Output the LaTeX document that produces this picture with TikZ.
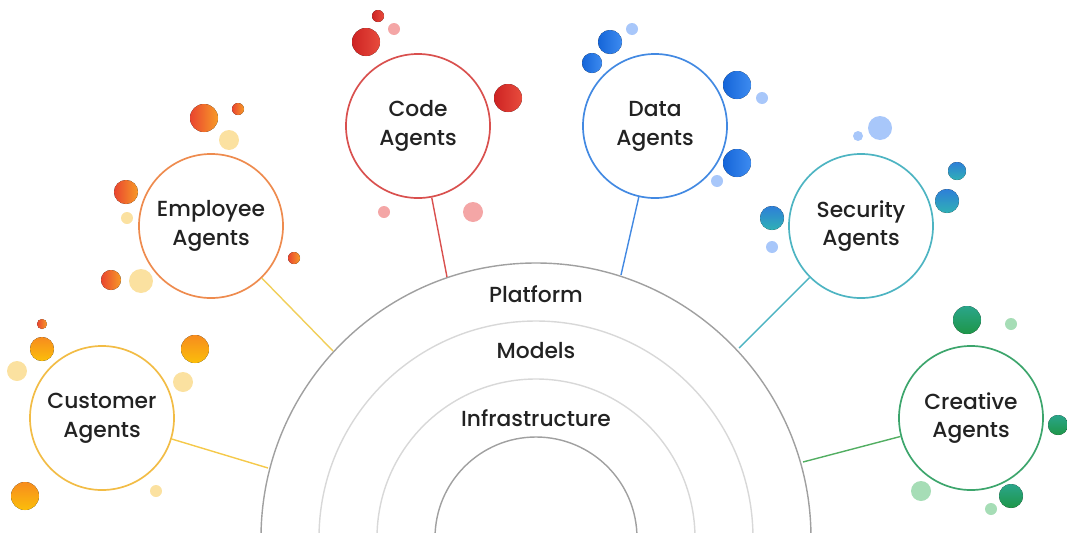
\documentclass[tikz,border=0pt]{standalone}
\usepackage{fontspec}
\setmainfont{Poppins Medium}
\usetikzlibrary{calc}

\definecolor{ringD}{HTML}{A0A0A0}
\definecolor{ringL}{HTML}{D8D8D8}
\definecolor{ink}{HTML}{222222}
\definecolor{custC}{HTML}{F2BC45}
\definecolor{custL}{HTML}{F5C94A}
\definecolor{emplC}{HTML}{EE8B4E}
\definecolor{emplL}{HTML}{F1CF5A}
\definecolor{codeC}{HTML}{D9504E}
\definecolor{dataC}{HTML}{4289E2}
\definecolor{secuC}{HTML}{4DB4C2}
\definecolor{creaC}{HTML}{3CA56C}
\definecolor{creaL}{HTML}{52AE62}

\tikzset{
    bYel/.style={top color={rgb,255:red,247;green,140;blue,30}, bottom color={rgb,255:red,251;green,190;blue,10}},
    bPyel/.style={fill={rgb,255:red,251;green,225;blue,160}},
    bOred/.style={left color={rgb,255:red,233;green,69;blue,47}, right color={rgb,255:red,247;green,154;blue,40}},
    bRed/.style={left color={rgb,255:red,205;green,35;blue,35}, right color={rgb,255:red,232;green,76;blue,61}},
    bPink/.style={fill={rgb,255:red,244;green,166;blue,166}},
    bBlu/.style={left color={rgb,255:red,21;green,101;blue,216}, right color={rgb,255:red,61;green,139;blue,240}},
    bPblu/.style={fill={rgb,255:red,168;green,199;blue,250}},
    bTeal/.style={top color={rgb,255:red,46;green,127;blue,216}, bottom color={rgb,255:red,47;green,176;blue,181}},
    bGrn/.style={top color={rgb,255:red,42;green,165;blue,138}, bottom color={rgb,255:red,30;green,150;blue,72}},
    bPgrn/.style={fill={rgb,255:red,166;green,221;blue,182}}
}

\begin{document}
\begin{tikzpicture}[x=0.025cm, y=-0.025cm,
    agent/.style={circle, draw, line width=1.2pt, fill=white, minimum size=3.6cm,
        align=center, text=ink, font=\fontsize{15.5}{20.5}\selectfont},
    layer/.style={text=ink, font=\fontsize{15.5}{20}\selectfont},
    ring/.style={line width=1pt},
    link/.style={line width=1pt}]
    \useasboundingbox (0,0) rectangle (1067,533);

    % Rings {Platform, Models, Infrastructure}
    \coordinate (ctr) at (536,538);
    \draw [ring, ringD] (ctr) ++(180:275) arc [start angle=180, end angle=360, radius=275];
    \draw [ring, ringL] (ctr) ++(180:217) arc [start angle=180, end angle=360, radius=217];
    \draw [ring, ringL] (ctr) ++(180:159) arc [start angle=180, end angle=360, radius=159];
    \draw [ring, ringD] (ctr) ++(180:101) arc [start angle=180, end angle=360, radius=101];
    \node [layer] (plat)  at (536,294) {Platform};
    \node [layer] (model) at (536,351) {Models};
    \node [layer] (infra) at (536,418) {Infrastructure};

    % Nodes {cust, empl, code, data, secu, crea}
    \node [agent, draw=custC] (cust) at (102,418) {Customer\\Agents};
    \node [agent, draw=emplC] (empl) at (211,226) {Employee\\Agents};
    \node [agent, draw=codeC] (code) at (418,126) {Code\\Agents};
    \node [agent, draw=dataC] (data) at (655,126) {Data\\Agents};
    \node [agent, draw=secuC] (secu) at (861,226) {Security\\Agents};
    \node [agent, draw=creaC] (crea) at (971,418) {Creative\\Agents};

    % Ends on the outer ring
    \coordinate (pcust) at (268,468);
    \coordinate (pempl) at (333,351);
    \coordinate (pcode) at (447,277);
    \coordinate (pdata) at (621,275);
    \coordinate (psecu) at (739,348);
    \coordinate (pcrea) at (803,462);

    % Paths
    \path [link, draw=custL]  (cust) edge (pcust);
    \path [link, draw=emplL]  (empl) edge (pempl);
    \path [link, draw=codeC]  (code) edge (pcode);
    \path [link, draw=dataC]  (data) edge (pdata);
    \path [link, draw=secuC]  (secu) edge (psecu);
    \path [link, draw=creaL]  (crea) edge (pcrea);

    % Bubbles
    \foreach \x/\y/\r/\s in {42/324/5/bOred, 42/349/12/bYel, 17/371/10/bPyel,
        195/349/14/bYel, 183/382/10/bPyel, 25/496/14/bYel, 156/491/6/bPyel}
        \fill [\s] (\x,\y) circle [radius=\r];
    \foreach \x/\y/\r/\s in {204/118/14/bOred, 238/109/6/bOred, 229/140/10/bPyel,
        126/192/12/bOred, 127/218/6/bPyel, 294/258/6/bOred, 111/280/10/bOred, 141/281/12/bPyel}
        \fill [\s] (\x,\y) circle [radius=\r];
    \foreach \x/\y/\r/\s in {378/16/6/bRed, 394/29/6/bPink, 366/42/14/bRed,
        508/98/14/bRed, 384/212/6/bPink, 473/212/10/bPink}
        \fill [\s] (\x,\y) circle [radius=\r];
    \foreach \x/\y/\r/\s in {632/29/6/bPblu, 610/42/12/bBlu, 592/63/10/bBlu,
        737/85/14/bBlu, 762/98/6/bPblu, 737/163/14/bBlu, 717/181/6/bPblu}
        \fill [\s] (\x,\y) circle [radius=\r];
    \foreach \x/\y/\r/\s in {858/136/5/bPblu, 880/128/12/bPblu, 957/171/9/bTeal,
        947/201/12/bTeal, 772/218/12/bTeal, 772/247/6/bPblu}
        \fill [\s] (\x,\y) circle [radius=\r];
    \foreach \x/\y/\r/\s in {967/320/14/bGrn, 1011/324/6/bPgrn, 1058/425/10/bGrn,
        921/491/10/bPgrn, 1011/496/12/bGrn, 991/509/6/bPgrn}
        \fill [\s] (\x,\y) circle [radius=\r];
\end{tikzpicture}
\end{document}
